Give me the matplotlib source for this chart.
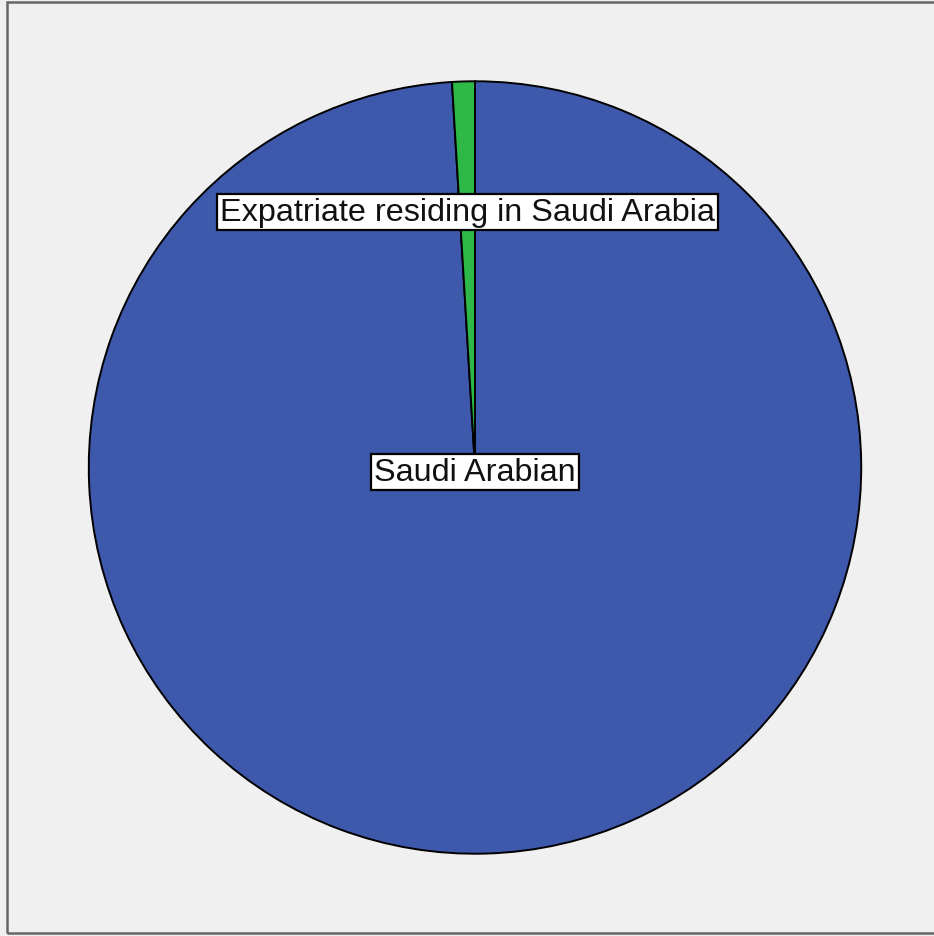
import matplotlib.pyplot as plt
import matplotlib.patches as mpatches

# residency split (percent)
labels = ['Saudi Arabian', 'Expatriate residing in Saudi Arabia']
shares = [99.05, 0.95]
colors = ['#3E58AC', '#2EB848']

# label spots inside the pie, in pie-radius units
label_pos = [(0.0, -0.012), (-0.02, 0.662)]

W, H = 934, 937
fig = plt.figure(figsize=(W / 100, H / 100), dpi=100)
fig.patch.set_facecolor('#F0F0F0')

# grey frame round the chart area
frame = mpatches.Rectangle((7 / W, 3 / H), (W + 10 - 7) / W, (934 - 3) / H,
                           transform=fig.transFigure, fill=False,
                           edgecolor='#666666', linewidth=1.8)
fig.patches.append(frame)

cx, cy, r = 475, 468.5, 387
ax = fig.add_axes([(cx - r) / W, (H - cy - r) / H, 2 * r / W, 2 * r / H])
ax.set_facecolor('none')

ax.pie(shares, colors=colors, startangle=90, counterclock=False, radius=1,
       wedgeprops=dict(edgecolor='black', linewidth=1.4))
ax.set_xlim(-1.002, 1.002)
ax.set_ylim(-1.002, 1.002)
ax.axis('off')

for lab, (x, y) in zip(labels, label_pos):
    ax.text(x, y, lab, ha='center', va='center', fontsize=23.3,
            family='Liberation Sans', color='#111111',
            bbox=dict(boxstyle='square,pad=0.1', facecolor='white',
                      edgecolor='black', linewidth=1.6))

fig.savefig('out.png', dpi=100, facecolor=fig.get_facecolor())
